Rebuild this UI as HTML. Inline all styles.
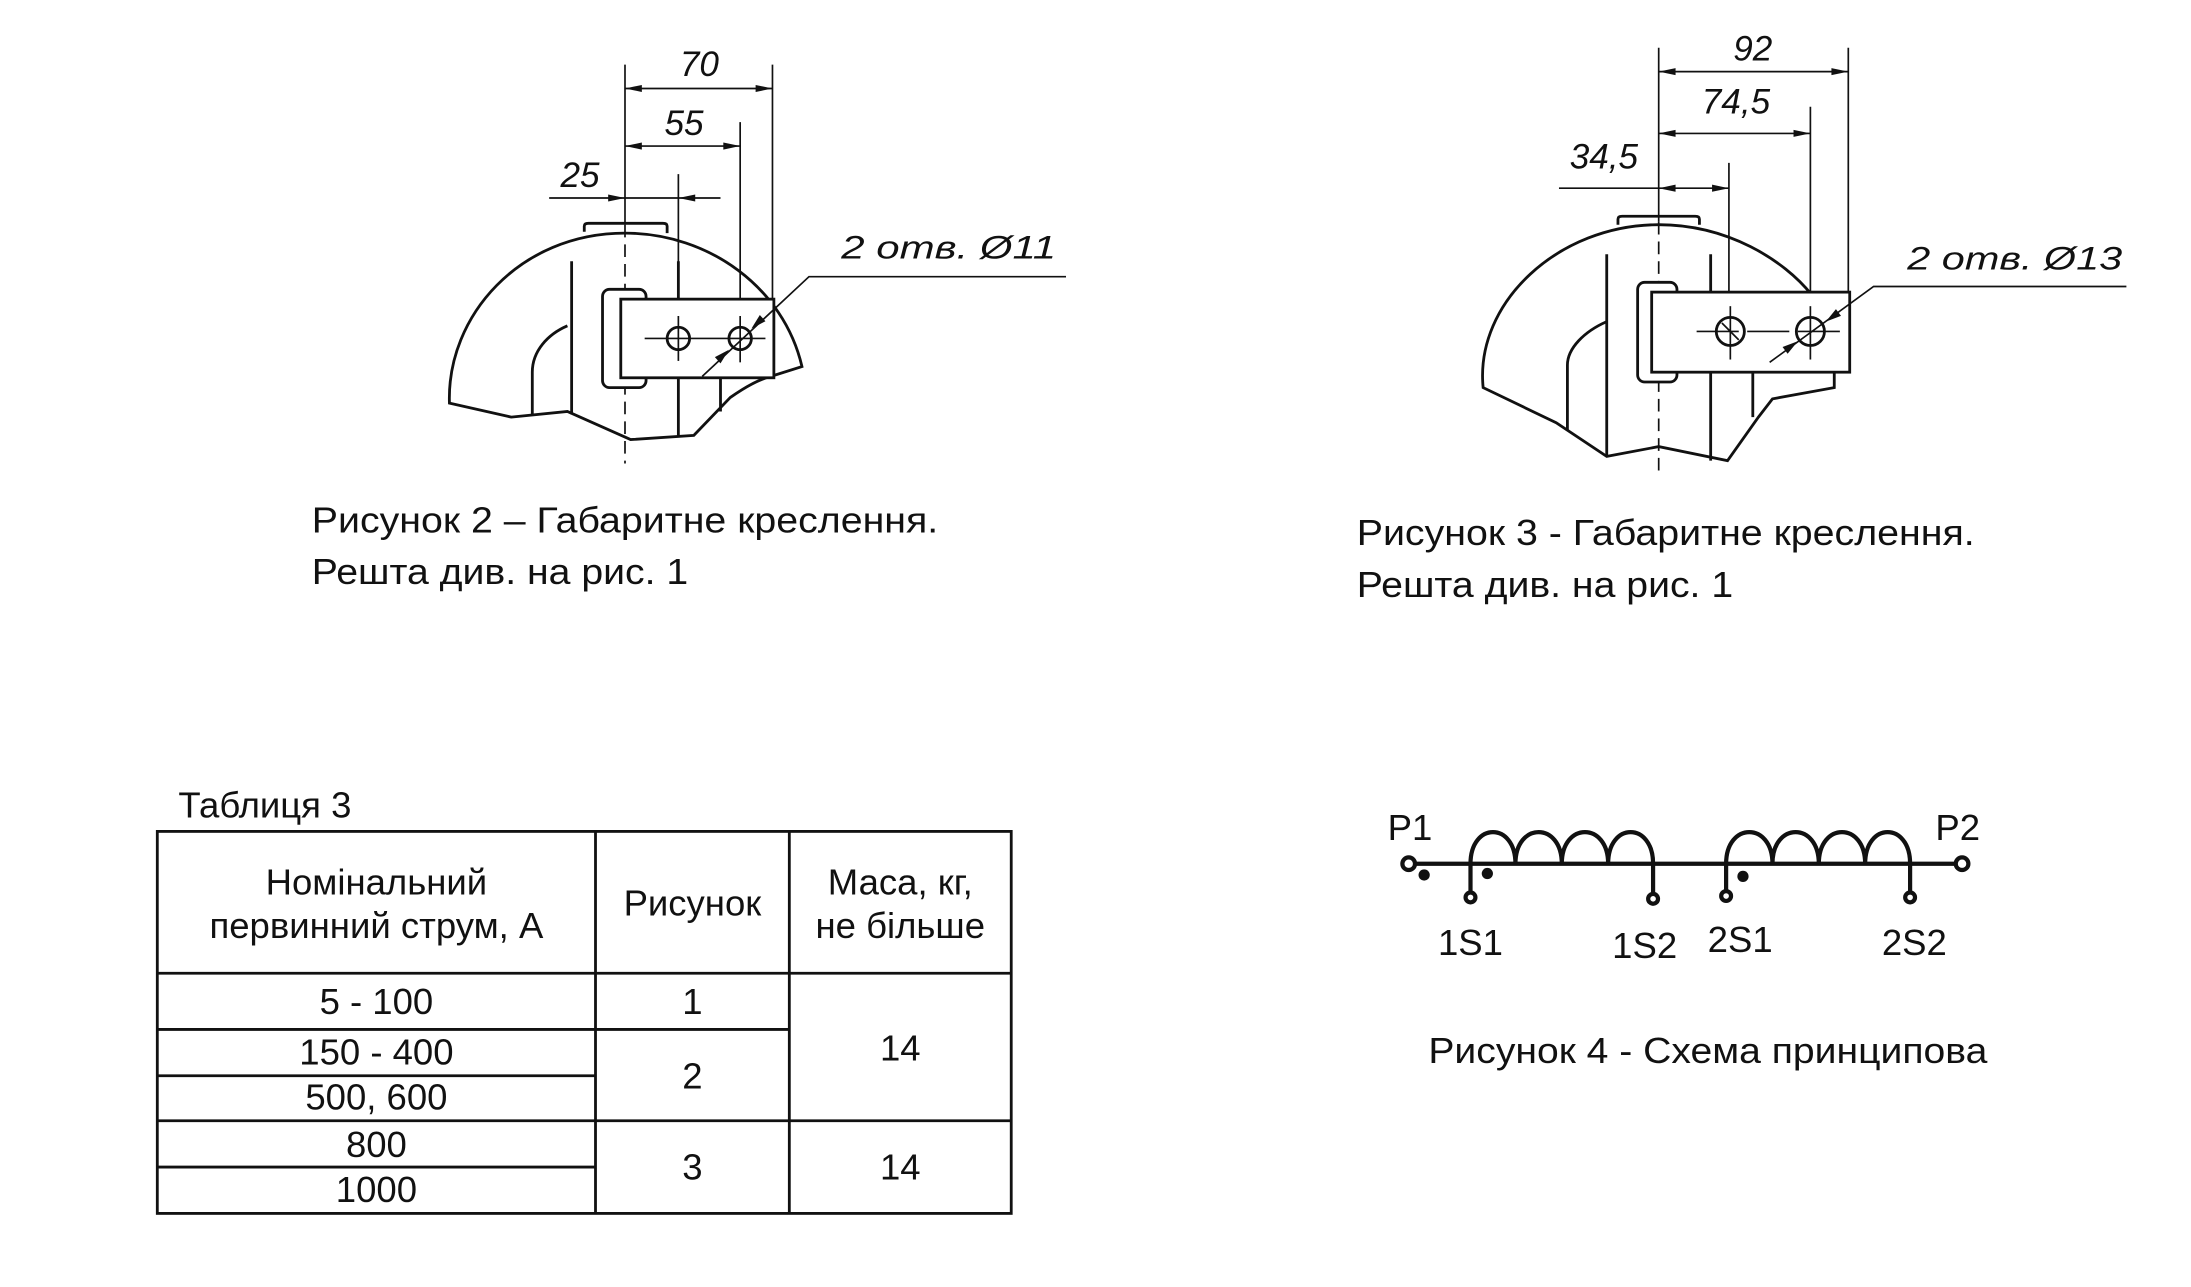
<!DOCTYPE html>
<html><head><meta charset="utf-8"><style>
html,body{margin:0;padding:0;background:#fff;}
svg{display:block;}
text{font-family:"Liberation Sans",Arial,sans-serif;fill:#111;}
</style></head><body>
<svg width="2191" height="1287" viewBox="0 0 1560 916.4" preserveAspectRatio="none" xmlns="http://www.w3.org/2000/svg">
<rect width="1560" height="916.4" fill="#fff"/>
<g stroke="#111" fill="none" stroke-width="1.2">
<!-- FIG 2 -->
<line x1="445" y1="46" x2="445" y2="160"/>
<line x1="445" y1="160" x2="445" y2="330" stroke-dasharray="9,5"/>
<line x1="550" y1="46" x2="550" y2="214"/>
<line x1="527" y1="87" x2="527" y2="262"/>
<line x1="483" y1="124" x2="483" y2="311"/>
<line x1="445" y1="63" x2="550" y2="63"/>
<line x1="445" y1="104" x2="527" y2="104"/>
<line x1="391" y1="141" x2="513" y2="141"/>
<g stroke-width="2">
<path d="M320,287 C318,225 370,166 445,166 C505,166 558,205 571,261 L552,267 C540,270 530,276 520,283 L494,310 L449,313 L404,293 L364,297 Z"/>
<path d="M379,296 L379,265 C379,250 390,238 404,232"/>
<line x1="407" y1="186" x2="407" y2="295"/>
<line x1="483" y1="186" x2="483" y2="310"/>
<line x1="513" y1="269" x2="513" y2="293"/>
<path d="M416,165 L416,161 Q416,159 419,159 L472,159 Q475,159 475,161 L475,166"/>
<rect x="429" y="206" width="31" height="70" rx="5" fill="#fff"/>
<rect x="442" y="213" width="109" height="56" fill="#fff"/>
<circle cx="483" cy="241" r="8"/>
<circle cx="527" cy="241" r="8"/>
</g>
<line x1="459" y1="241" x2="545" y2="241"/>
<line x1="483" y1="225" x2="483" y2="257"/>
<line x1="527" y1="225" x2="527" y2="258"/>
<polyline points="759,197 576,197 500,268"/>
<!-- FIG 3 -->
<line x1="1181" y1="34" x2="1181" y2="158"/>
<line x1="1181" y1="158" x2="1181" y2="335" stroke-dasharray="9,5"/>
<line x1="1316" y1="34" x2="1316" y2="208"/>
<line x1="1289" y1="76" x2="1289" y2="258"/>
<line x1="1231" y1="116" x2="1231" y2="259"/>
<line x1="1181" y1="51" x2="1316" y2="51"/>
<line x1="1181" y1="95" x2="1289" y2="95"/>
<line x1="1110" y1="134" x2="1231" y2="134"/>
<g stroke-width="2">
<path d="M1056,276 C1050,215 1110,160 1181,160 C1230,160 1270,185 1290,210 L1306,265 L1306,276 L1262,284 L1252,297 L1230,328 L1181,318 L1144,325 L1108,301 Z"/>
<path d="M1116,306 L1116,260 C1116,248 1128,236 1144,229"/>
<line x1="1144" y1="181" x2="1144" y2="325"/>
<line x1="1218" y1="181" x2="1218" y2="328"/>
<line x1="1248" y1="265" x2="1248" y2="297"/>
<path d="M1152,160 L1152,156 Q1152,154 1155,154 L1207,154 Q1210,154 1210,156 L1210,160"/>
<rect x="1166" y="201" width="28" height="71" rx="5" fill="#fff"/>
<rect x="1176" y="208" width="141" height="57" fill="#fff"/>
<circle cx="1232" cy="236" r="10"/>
<circle cx="1289" cy="236" r="10"/>
</g>
<line x1="1208" y1="236" x2="1312" y2="236" stroke-dasharray="30,6"/>
<line x1="1232" y1="218" x2="1232" y2="256"/>
<line x1="1289" y1="218" x2="1289" y2="256"/>
<line x1="1226" y1="230" x2="1238" y2="242"/>
<polyline points="1514,204 1334,204 1260,258"/>
<!-- TABLE -->
<g stroke-width="2">
<rect x="112" y="592" width="608" height="272"/>
<line x1="424" y1="592" x2="424" y2="864"/>
<line x1="562" y1="592" x2="562" y2="864"/>
<line x1="112" y1="693" x2="720" y2="693"/>
<line x1="112" y1="733" x2="562" y2="733"/>
<line x1="112" y1="766" x2="424" y2="766"/>
<line x1="112" y1="798" x2="720" y2="798"/>
<line x1="112" y1="831" x2="424" y2="831"/>
</g>
<!-- SCHEME -->
<g stroke-width="3">
<line x1="1008" y1="615" x2="1392" y2="615"/>
<path d="M1047,636 L1047,615 C1047,585 1079,585 1079,615 C1079,585 1112,585 1112,615 C1112,585 1145,585 1145,615 C1145,585 1177,585 1177,615 L1177,636"/>
<path d="M1229,636 L1229,615 C1229,585 1262,585 1262,615 C1262,585 1295,585 1295,615 C1295,585 1328,585 1328,615 C1328,585 1360,585 1360,615 L1360,636"/>
<circle cx="1003" cy="615" r="4.5" fill="#fff"/>
<circle cx="1397" cy="615" r="4.5" fill="#fff"/>
<circle cx="1047" cy="639" r="3.5" fill="#fff"/>
<circle cx="1177" cy="640" r="3.5" fill="#fff"/>
<circle cx="1229" cy="638" r="3.5" fill="#fff"/>
<circle cx="1360" cy="639" r="3.5" fill="#fff"/>
</g>
</g>
<g fill="#111">
<polygon points="445,63 457,60.5 457,65.5"/><polygon points="550,63 538,60.5 538,65.5"/>
<polygon points="445,104 457,101.5 457,106.5"/><polygon points="527,104 515,101.5 515,106.5"/>
<polygon points="445,141 433,138.5 433,143.5"/><polygon points="483,141 495,138.5 495,143.5"/>
<polygon points="535,234 545,228.7 541,224.3"/><polygon points="519,249 513,258.7 509,254.3"/>
<polygon points="1181,51 1193,48.5 1193,53.5"/><polygon points="1316,51 1304,48.5 1304,53.5"/>
<polygon points="1181,95 1193,92.5 1193,97.5"/><polygon points="1289,95 1277,92.5 1277,97.5"/>
<polygon points="1181,134 1193,131.5 1193,136.5"/><polygon points="1231,134 1219,131.5 1219,136.5"/>
<polygon points="1300,229 1310.8,224.9 1307.2,220.1"/><polygon points="1280,243 1272.8,251.9 1269.2,247.1"/>
<circle cx="1014" cy="623" r="4"/><circle cx="1059" cy="622" r="4"/><circle cx="1241" cy="624" r="4"/>
</g>
<g font-style="italic" font-size="25" fill="#333">
<text x="498" y="54" text-anchor="middle">70</text>
<text x="487" y="96" text-anchor="middle">55</text>
<text x="413" y="133" text-anchor="middle">25</text>
<text x="599" y="184" font-size="23" textLength="153" lengthAdjust="spacingAndGlyphs">2 отв. Ø11</text>
<text x="1248" y="43" text-anchor="middle">92</text>
<text x="1236" y="81" text-anchor="middle">74,5</text>
<text x="1142" y="120" text-anchor="middle">34,5</text>
<text x="1358" y="192" font-size="23" textLength="153" lengthAdjust="spacingAndGlyphs">2 отв. Ø13</text>
</g>
<g font-size="26">
<text x="222" y="379" textLength="446" lengthAdjust="spacingAndGlyphs">Рисунок 2 – Габаритне креслення.</text>
<text x="222" y="416" textLength="268" lengthAdjust="spacingAndGlyphs">Решта див. на рис. 1</text>
<text x="966" y="388" textLength="440" lengthAdjust="spacingAndGlyphs">Рисунок 3 - Габаритне креслення.</text>
<text x="966" y="425" textLength="268" lengthAdjust="spacingAndGlyphs">Решта див. на рис. 1</text>
<text x="127" y="582">Таблиця 3</text>
<g text-anchor="middle">
<text x="268" y="637">Номінальний</text>
<text x="268" y="668">первинний струм, А</text>
<text x="493" y="652">Рисунок</text>
<text x="641" y="637">Маса, кг,</text>
<text x="641" y="668">не більше</text>
<text x="268" y="722">5 - 100</text>
<text x="268" y="758">150 - 400</text>
<text x="268" y="790">500, 600</text>
<text x="268" y="824">800</text>
<text x="268" y="856">1000</text>
<text x="493" y="722">1</text>
<text x="493" y="775">2</text>
<text x="493" y="840">3</text>
<text x="641" y="755">14</text>
<text x="641" y="840">14</text>
<text x="1047" y="680">1S1</text>
<text x="1171" y="682">1S2</text>
<text x="1239" y="678">2S1</text>
<text x="1363" y="680">2S2</text>
</g>
<text x="988" y="598">P1</text>
<text x="1378" y="598">P2</text>
<text x="1017" y="757" textLength="398" lengthAdjust="spacingAndGlyphs">Рисунок 4 - Схема принципова</text>
</g>
</svg>
</body></html>
